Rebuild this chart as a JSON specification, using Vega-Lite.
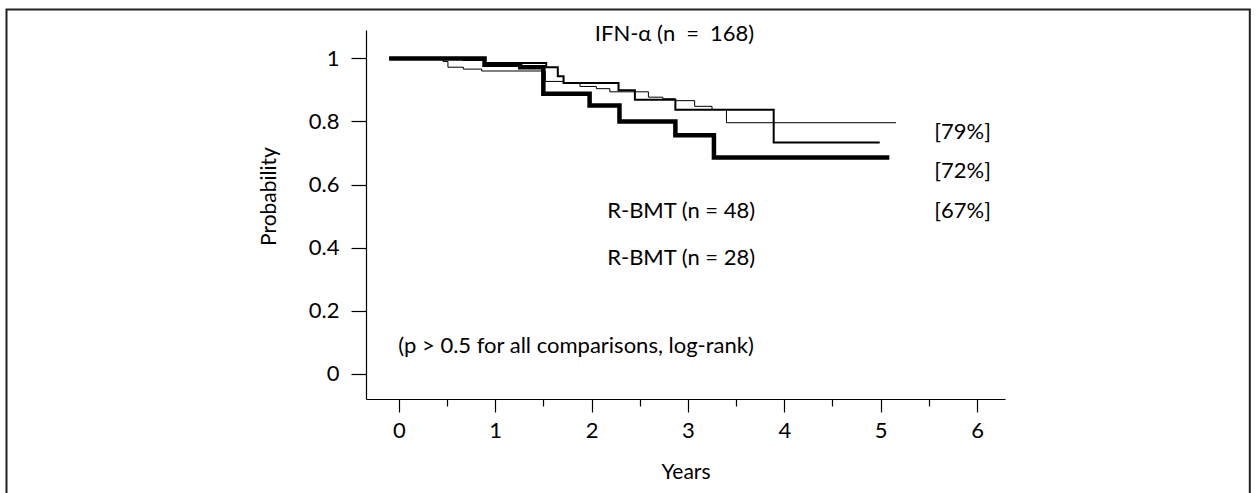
{
  "$schema": "https://vega.github.io/schema/vega-lite/v6.json",
  "width": 639,
  "height": 369,
  "autosize": "none",
  "padding": {"left": 366, "top": 30, "right": 252, "bottom": 94},
  "background": "white",
  "config": {
    "view": {"stroke": null},
    "font": "Lato",
    "axis": {
      "domainColor": "black", "domainWidth": 1.2, "tickColor": "black", "tickWidth": 1.2,
      "labelColor": "black", "labelFont": "Lato", "labelFontSize": 22,
      "titleColor": "black", "titleFont": "Lato", "titleFontSize": 21, "titleFontWeight": "normal",
      "grid": false
    }
  },
  "datasets": {
    "curves": [
      {"group": "R-BMT (n = 28)", "t": -0.1, "s": 1.0},
      {"group": "R-BMT (n = 28)", "t": 0.89, "s": 0.98},
      {"group": "R-BMT (n = 28)", "t": 1.26, "s": 0.972},
      {"group": "R-BMT (n = 28)", "t": 1.50, "s": 0.888},
      {"group": "R-BMT (n = 28)", "t": 1.98, "s": 0.851},
      {"group": "R-BMT (n = 28)", "t": 2.29, "s": 0.80},
      {"group": "R-BMT (n = 28)", "t": 2.87, "s": 0.756},
      {"group": "R-BMT (n = 28)", "t": 3.27, "s": 0.686},
      {"group": "R-BMT (n = 28)", "t": 5.09, "s": 0.686},
      {"group": "R-BMT (n = 48)", "t": -0.1, "s": 1.0},
      {"group": "R-BMT (n = 48)", "t": 0.67, "s": 0.995},
      {"group": "R-BMT (n = 48)", "t": 0.89, "s": 0.985},
      {"group": "R-BMT (n = 48)", "t": 1.53, "s": 0.972},
      {"group": "R-BMT (n = 48)", "t": 1.65, "s": 0.943},
      {"group": "R-BMT (n = 48)", "t": 1.71, "s": 0.922},
      {"group": "R-BMT (n = 48)", "t": 2.28, "s": 0.899},
      {"group": "R-BMT (n = 48)", "t": 2.45, "s": 0.869},
      {"group": "R-BMT (n = 48)", "t": 2.87, "s": 0.837},
      {"group": "R-BMT (n = 48)", "t": 3.89, "s": 0.733},
      {"group": "R-BMT (n = 48)", "t": 4.99, "s": 0.733},
      {"group": "IFN-α (n = 168)", "t": -0.1, "s": 1.0},
      {"group": "IFN-α (n = 168)", "t": 0.46, "s": 0.99},
      {"group": "IFN-α (n = 168)", "t": 0.51, "s": 0.972},
      {"group": "IFN-α (n = 168)", "t": 0.67, "s": 0.966},
      {"group": "IFN-α (n = 168)", "t": 0.86, "s": 0.96},
      {"group": "IFN-α (n = 168)", "t": 1.52, "s": 0.927},
      {"group": "IFN-α (n = 168)", "t": 1.71, "s": 0.922},
      {"group": "IFN-α (n = 168)", "t": 1.88, "s": 0.911},
      {"group": "IFN-α (n = 168)", "t": 2.05, "s": 0.904},
      {"group": "IFN-α (n = 168)", "t": 2.19, "s": 0.894},
      {"group": "IFN-α (n = 168)", "t": 2.59, "s": 0.877},
      {"group": "IFN-α (n = 168)", "t": 2.74, "s": 0.872},
      {"group": "IFN-α (n = 168)", "t": 2.87, "s": 0.866},
      {"group": "IFN-α (n = 168)", "t": 3.07, "s": 0.848},
      {"group": "IFN-α (n = 168)", "t": 3.25, "s": 0.838},
      {"group": "IFN-α (n = 168)", "t": 3.40, "s": 0.796},
      {"group": "IFN-α (n = 168)", "t": 5.16, "s": 0.796}
    ],
    "labels": [
      {"label": "IFN-α (n\u2002=\u2002168)", "t": 2.86, "s": 1.076},
      {"label": "[79%]", "t": 5.85, "s": 0.766},
      {"label": "[72%]", "t": 5.85, "s": 0.642},
      {"label": "[67%]", "t": 5.85, "s": 0.516},
      {"label": "R-BMT (n = 48)", "t": 2.93, "s": 0.516},
      {"label": "R-BMT (n = 28)", "t": 2.93, "s": 0.367},
      {"label": "(p > 0.5 for all comparisons, log-rank)", "t": 1.84, "s": 0.089}
    ]
  },
  "layer": [
    {
      "data": {"values": [{"frame": "border"}]},
      "mark": {"type": "rect", "fill": null, "stroke": "#222", "strokeWidth": 2},
      "encoding": {
        "x": {"datum": -4.07, "type": "quantitative", "scale": {"domain": [-0.34, 6.29], "nice": false, "zero": false}},
        "x2": {"datum": 8.83},
        "y": {"datum": 1.155, "type": "quantitative", "scale": {"domain": [-0.08, 1.09], "nice": false, "zero": false}},
        "y2": {"datum": -0.45}
      }
    },
    {
      "data": {"name": "curves"},
      "transform": [{"filter": "datum.group === 'R-BMT (n = 28)'"}],
      "mark": {"type": "line", "interpolate": "step-after", "color": "black", "strokeWidth": 4.5},
      "encoding": {
        "x": {
          "field": "t", "type": "quantitative",
          "scale": {"domain": [-0.34, 6.29], "nice": false, "zero": false},
          "axis": {
            "title": "Years", "titlePadding": 20,
            "values": [0, 0.5, 1, 1.5, 2, 2.5, 3, 3.5, 4, 4.5, 5, 5.5, 6],
            "labelExpr": "datum.value % 1 === 0 ? format(datum.value, 'd') : ''",
            "tickSize": {"condition": {"test": "datum.value % 1 === 0", "value": 13}, "value": 7},
            "labelPadding": 8
          }
        },
        "y": {
          "field": "s", "type": "quantitative",
          "scale": {"domain": [-0.08, 1.09], "nice": false, "zero": false},
          "axis": {
            "title": "Probability", "titlePadding": 29, "titleY": 166,
            "values": [0, 0.1, 0.2, 0.3, 0.4, 0.5, 0.6, 0.7, 0.8, 0.9, 1],
            "labelExpr": "round(datum.value*10) % 2 ? '' : (datum.value == 0 ? '0' : (datum.value == 1 ? '1' : format(datum.value, '.1f')))",
            "tickSize": {"condition": {"test": "round(datum.value*10) % 2 === 0", "value": 15}, "value": 8},
            "labelPadding": 12
          }
        }
      }
    },
    {
      "data": {"name": "curves"},
      "transform": [{"filter": "datum.group === 'R-BMT (n = 48)'"}],
      "mark": {"type": "line", "interpolate": "step-after", "color": "black", "strokeWidth": 2},
      "encoding": {
        "x": {"field": "t", "type": "quantitative"},
        "y": {"field": "s", "type": "quantitative"}
      }
    },
    {
      "data": {"name": "curves"},
      "transform": [{"filter": "datum.group === 'IFN-α (n = 168)'"}],
      "mark": {"type": "line", "interpolate": "step-after", "color": "black", "strokeWidth": 1},
      "encoding": {
        "x": {"field": "t", "type": "quantitative"},
        "y": {"field": "s", "type": "quantitative"}
      }
    },
    {
      "data": {"name": "labels"},
      "mark": {"type": "text", "font": "Lato", "fontSize": 22, "color": "black", "align": "center", "baseline": "middle"},
      "encoding": {
        "x": {"field": "t", "type": "quantitative"},
        "y": {"field": "s", "type": "quantitative"},
        "text": {"field": "label"}
      }
    }
  ]
}
